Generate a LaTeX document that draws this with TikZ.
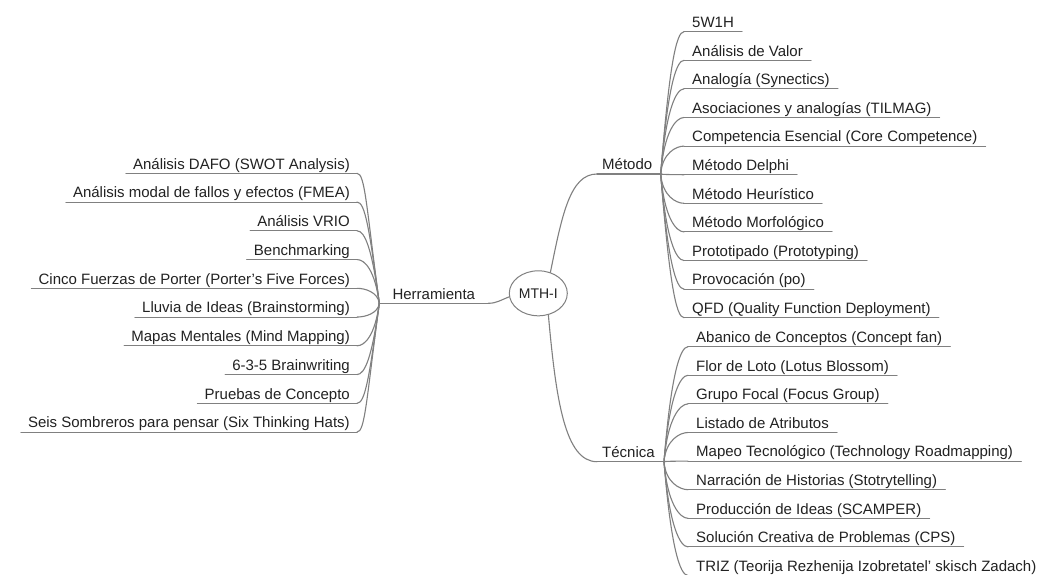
\documentclass[tikz,border=0pt]{standalone}
\usepackage{fontspec}
\setmainfont{Liberation Sans}
\usetikzlibrary{shapes.geometric,calc}
\definecolor{lncol}{RGB}{128,128,128}
\definecolor{txtcol}{RGB}{34,34,34}
\begin{document}
\begin{tikzpicture}[x=1pt,y=-1pt,
  ln/.style={draw=lncol, line width=1.1pt, line cap=round},
  topic/.style={font=\fontsize{15}{18}\selectfont, text=txtcol, inner xsep=7pt,
    inner ysep=0pt, text height=11pt, text depth=4pt},
  hub/.style={ellipse, draw=lncol, line width=1pt, minimum width=58pt,
    minimum height=45pt, inner sep=0pt, font=\fontsize{14}{16}\selectfont, text=txtcol}]
\useasboundingbox (0,0) rectangle (1042,574);
\fill[white] (0,0) rectangle (1042,574);

% central topic
\node[hub] (c) at (538.3,293.3) {MTH-I};

% main branch: Herramienta
\coordinate (hj) at (379.3,303.3);
\node[topic, anchor=south west, inner xsep=13pt] (h) at (hj) {Herramienta};
\draw[ln] (hj) -- (h.south east);
\draw[ln] (h.south east) to[out=0,in=200] (c.187);

% main branch: Método
\coordinate (mj) at (660.7,174);
\node[topic, anchor=south west, inner xsep=5pt] (m) at (597,174) {Método};
\draw[ln] (m.south west) -- (mj);
\draw[ln] (c.60) .. controls (562,215) and (570,174) .. (m.south west);

% main branch: Técnica
\coordinate (tj) at (664,461.7);
\node[topic, anchor=south west, inner xsep=5pt] (t) at (597,461.7) {Técnica};
\draw[ln] (t.south west) -- (tj);
\draw[ln] (c.-65) .. controls (556,400) and (565,461.7) .. (t.south west);

% subtopics of Herramienta (left side)
\foreach \txt [count=\i from 0] in {
  Análisis DAFO (SWOT Analysis),
  Análisis modal de fallos y efectos (FMEA),
  Análisis VRIO,
  Benchmarking,
  Cinco Fuerzas de Porter (Porter’s Five Forces),
  Lluvia de Ideas (Brainstorming),
  Mapas Mentales (Mind Mapping),
  6-3-5 Brainwriting,
  Pruebas de Concepto,
  Seis Sombreros para pensar (Six Thinking Hats)} {
  \pgfmathsetmacro\yy{173.3+28.75*\i}
  \pgfmathsetmacro\dy{abs(\yy-303.3)}
  \pgfmathsetmacro\cx{379.3-0.1*\dy}
  \pgfmathsetmacro\cy{\yy+0.25*(303.3-\yy)}
  \node[topic, anchor=south east] (h\i) at (357,\yy) {\txt};
  \draw[ln] (h\i.south west) -- (h\i.south east);
  \draw[ln] (h\i.south east) .. controls +(8,0) and (\cx,\cy) .. (hj);
}

% subtopics of Método
\foreach \txt [count=\i from 0] in {
  5W1H,
  Análisis de Valor,
  Analogía (Synectics),
  Asociaciones y analogías (TILMAG),
  Competencia Esencial (Core Competence),
  Método Delphi,
  Método Heurístico,
  Método Morfológico,
  Prototipado (Prototyping),
  Provocación (po),
  QFD (Quality Function Deployment)} {
  \pgfmathsetmacro\yy{31.7+28.6*\i}
  \pgfmathsetmacro\dy{abs(\yy-174)}
  \pgfmathsetmacro\cx{660.7+0.06*\dy}
  \pgfmathsetmacro\cy{\yy+0.25*(174-\yy)}
  \node[topic, anchor=south west, inner xsep=8pt] (m\i) at (684,\yy) {\txt};
  \draw[ln] (m\i.south west) -- (m\i.south east);
  \draw[ln] (m\i.south west) .. controls +(-8,0) and (\cx,\cy) .. (mj);
}

% subtopics of Técnica
\foreach \txt [count=\i from 0] in {
  Abanico de Conceptos (Concept fan),
  Flor de Loto (Lotus Blossom),
  Grupo Focal (Focus Group),
  Listado de Atributos,
  Mapeo Tecnológico (Technology Roadmapping),
  Narración de Historias (Stotrytelling),
  Producción de Ideas (SCAMPER),
  Solución Creativa de Problemas (CPS),
  TRIZ (Teorija Rezhenija Izobretatel’ skisch Zadach)} {
  \pgfmathsetmacro\yy{346.7+28.6*\i}
  \pgfmathsetmacro\dy{abs(\yy-461.7)}
  \pgfmathsetmacro\cx{664+0.06*\dy}
  \pgfmathsetmacro\cy{\yy+0.25*(461.7-\yy)}
  \node[topic, anchor=south west, inner xsep=8pt] (t\i) at (688,\yy) {\txt};
  \draw[ln] (t\i.south west) -- (t\i.south east);
  \draw[ln] (t\i.south west) .. controls +(-8,0) and (\cx,\cy) .. (tj);
}
\end{tikzpicture}
\end{document}
